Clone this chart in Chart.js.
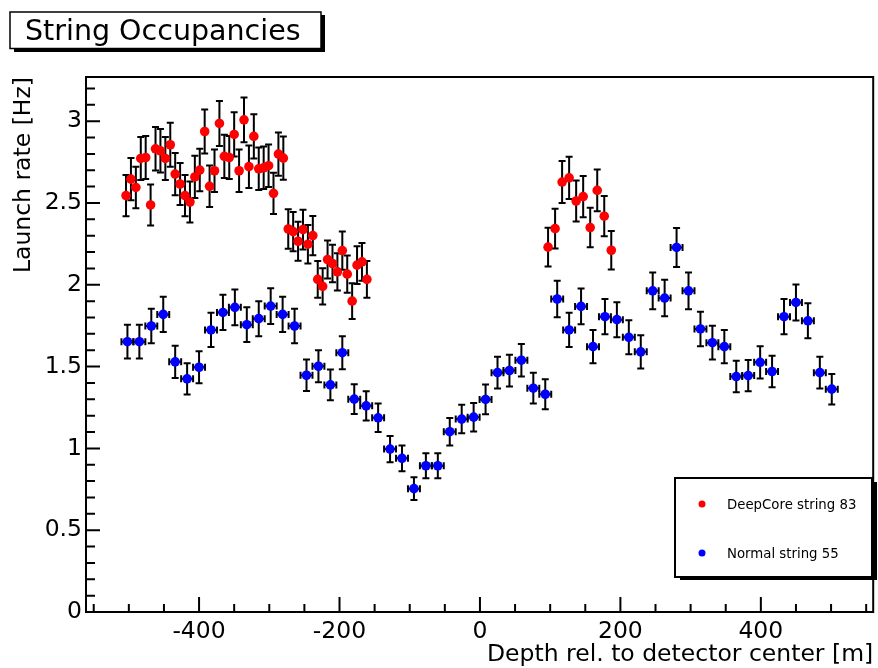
<!DOCTYPE html>
<html>
<head>
<meta charset="utf-8">
<title>String Occupancies</title>
<script src="https://cdn.jsdelivr.net/npm/chart.js@4.4.1/dist/chart.umd.min.js"></script>
<style>
  html, body { margin: 0; padding: 0; background: #fff; }
  canvas { display: block; }
</style>
</head>
<body>
<canvas id="occ" width="878" height="668"></canvas>
<script>
// DeepCore string 83: 50 deep DOMs (7 m apart) + 10 upper DOMs (10 m apart)
const deepX = [-504, -497, -490, -483, -476, -469, -462, -455, -448, -441,
  -434, -427, -420, -413, -406, -399, -392, -385, -378, -371,
  -364, -357, -350, -343, -336, -329, -322, -315, -308, -301,
  -294, -287, -280, -273, -266, -259, -252, -245, -238, -231,
  -224, -217, -210, -203, -196, -189, -182, -175, -168, -161,
  97, 107, 117, 127, 137, 147, 157, 167, 177, 187];
const deepRate = [2.545, 2.646, 2.595, 2.772, 2.778, 2.488, 2.831, 2.819, 2.772, 2.856,
  2.677, 2.616, 2.545, 2.506, 2.659, 2.701, 2.937, 2.602, 2.697, 2.986,
  2.785, 2.778, 2.919, 2.697, 3.008, 2.722, 2.907, 2.709, 2.715, 2.728,
  2.559, 2.799, 2.774, 2.341, 2.325, 2.266, 2.337, 2.248, 2.301, 2.033,
  1.990, 2.154, 2.130, 2.079, 2.209, 2.065, 1.900, 2.120, 2.140, 2.033,
  2.230, 2.343, 2.628, 2.654, 2.512, 2.539, 2.350, 2.577, 2.419, 2.211];
const deepErr = [0.126, 0.129, 0.127, 0.132, 0.132, 0.125, 0.133, 0.133, 0.132, 0.134,
  0.129, 0.128, 0.126, 0.125, 0.129, 0.130, 0.135, 0.127, 0.130, 0.137,
  0.132, 0.132, 0.135, 0.130, 0.137, 0.130, 0.135, 0.130, 0.130, 0.130,
  0.126, 0.132, 0.132, 0.121, 0.120, 0.119, 0.121, 0.118, 0.120, 0.113,
  0.111, 0.116, 0.115, 0.114, 0.117, 0.114, 0.109, 0.115, 0.116, 0.113,
  0.118, 0.121, 0.128, 0.129, 0.125, 0.126, 0.121, 0.127, 0.123, 0.117];

// Normal string 55: 60 DOMs, 17 m apart
const normX = [-502, -485, -468, -451, -434, -417, -400, -383, -366, -349,
  -332, -315, -298, -281, -264, -247, -230, -213, -196, -179,
  -162, -145, -128, -111, -94, -77, -60, -43, -26, -9,
  8, 25, 42, 59, 76, 93, 110, 127, 144, 161,
  178, 195, 212, 229, 246, 263, 280, 297, 314, 331,
  348, 365, 382, 399, 416, 433, 450, 467, 484, 501];
const normRate = [1.652, 1.652, 1.748, 1.819, 1.529, 1.425, 1.496, 1.724, 1.831, 1.862,
  1.756, 1.793, 1.870, 1.819, 1.748, 1.447, 1.502, 1.388, 1.585, 1.301,
  1.260, 1.187, 0.996, 0.939, 0.754, 0.894, 0.894, 1.102, 1.179, 1.191,
  1.299, 1.463, 1.476, 1.539, 1.368, 1.331, 1.913, 1.724, 1.868, 1.622,
  1.805, 1.787, 1.679, 1.590, 1.963, 1.919, 2.228, 1.963, 1.730, 1.646,
  1.622, 1.439, 1.445, 1.526, 1.470, 1.805, 1.892, 1.780, 1.463, 1.362];
const normErr = [0.103, 0.103, 0.106, 0.108, 0.099, 0.096, 0.098, 0.105, 0.108, 0.109,
  0.106, 0.107, 0.109, 0.108, 0.106, 0.096, 0.098, 0.094, 0.101, 0.091,
  0.090, 0.087, 0.080, 0.078, 0.069, 0.076, 0.076, 0.084, 0.087, 0.087,
  0.091, 0.097, 0.097, 0.099, 0.094, 0.092, 0.111, 0.105, 0.109, 0.102,
  0.108, 0.107, 0.104, 0.101, 0.112, 0.111, 0.119, 0.112, 0.105, 0.103,
  0.102, 0.096, 0.096, 0.099, 0.097, 0.108, 0.110, 0.107, 0.097, 0.093];
const normXErr = 8.5;

const xMajor = [-400, -200, 0, 200, 400];
const FONT = 'DejaVu Sans';

// error bars, drawn under the markers
const errorBars = {
  id: 'errorBars',
  beforeDatasetsDraw(chart) {
    const { ctx, scales: { x, y } } = chart;
    ctx.save();
    ctx.strokeStyle = '#000';
    ctx.lineWidth = 2;
    chart.data.datasets.forEach(ds => {
      ds.data.forEach((p, i) => {
        const px = x.getPixelForValue(p.x);
        const y1 = y.getPixelForValue(p.y + ds.yErr[i]);
        const y2 = y.getPixelForValue(p.y - ds.yErr[i]);
        ctx.beginPath();
        ctx.moveTo(px, y1); ctx.lineTo(px, y2);
        ctx.moveTo(px - 3.5, y1); ctx.lineTo(px + 3.5, y1);
        ctx.moveTo(px - 3.5, y2); ctx.lineTo(px + 3.5, y2);
        if (ds.xErr) {
          const py = y.getPixelForValue(p.y);
          const x1 = x.getPixelForValue(p.x - ds.xErr);
          const x2 = x.getPixelForValue(p.x + ds.xErr);
          ctx.moveTo(x1, py); ctx.lineTo(x2, py);
          ctx.moveTo(x1, py - 3.5); ctx.lineTo(x1, py + 3.5);
          ctx.moveTo(x2, py - 3.5); ctx.lineTo(x2, py + 3.5);
        }
        ctx.stroke();
      });
    });
    ctx.restore();
  }
};

// ROOT-like frame, inward ticks, title box and legend box
const rootFrame = {
  id: 'rootFrame',
  afterDraw(chart) {
    const { ctx, chartArea: a, scales: { x, y } } = chart;
    ctx.save();
    ctx.strokeStyle = '#000';
    ctx.lineWidth = 2;
    ctx.strokeRect(a.left, a.top, a.right - a.left, a.bottom - a.top);

    ctx.beginPath();
    for (let v = -550; v <= 550; v += 50) {
      if (v < x.min || v > x.max) continue;
      const px = x.getPixelForValue(v);
      const len = v % 200 === 0 ? 15 : 8;
      ctx.moveTo(px, a.bottom); ctx.lineTo(px, a.bottom - len);
    }
    for (let k = 1; k <= 32; k++) {
      const v = k / 10;
      if (v > y.max) continue;
      const py = y.getPixelForValue(v);
      const len = k % 5 === 0 ? 14 : 9;
      ctx.moveTo(a.left, py); ctx.lineTo(a.left + len, py);
    }
    ctx.stroke();

    // title box
    ctx.fillStyle = '#000';
    ctx.fillRect(14, 48, 311, 4);
    ctx.fillRect(321, 15, 4, 37);
    ctx.fillStyle = '#fff';
    ctx.fillRect(10, 12, 311, 36.5);
    ctx.lineWidth = 1.5;
    ctx.strokeRect(10, 12, 311, 36.5);
    ctx.fillStyle = '#000';
    ctx.font = '28.5px "' + FONT + '"';
    ctx.textBaseline = 'alphabetic';
    ctx.textAlign = 'left';
    ctx.fillText('String Occupancies', 25, 39.5);

    // legend box
    ctx.fillStyle = '#000';
    ctx.fillRect(680, 576, 197, 4);
    ctx.fillRect(872, 482, 5, 98);
    ctx.fillStyle = '#fff';
    ctx.fillRect(675, 478, 197, 99);
    ctx.lineWidth = 2;
    ctx.strokeRect(675, 478, 197, 99);
    chart.data.datasets.forEach((ds, i) => {
      const cy = i === 0 ? 504 : 553;
      ctx.fillStyle = ds.backgroundColor;
      ctx.beginPath();
      ctx.arc(702, cy, 3.5, 0, Math.PI * 2);
      ctx.fill();
      ctx.fillStyle = '#000';
      ctx.font = '13.3px "' + FONT + '"';
      ctx.fillText(ds.label, 727, cy + 4.5);
    });
    ctx.restore();
  }
};

new Chart(document.getElementById('occ'), {
  type: 'scatter',
  data: {
    datasets: [
      {
        label: 'DeepCore string 83',
        data: deepX.map((v, i) => ({ x: v, y: deepRate[i] })),
        yErr: deepErr,
        xErr: 0,
        backgroundColor: '#ff0000',
        borderWidth: 0,
        pointRadius: 4.8
      },
      {
        label: 'Normal string 55',
        data: normX.map((v, i) => ({ x: v, y: normRate[i] })),
        yErr: normErr,
        xErr: normXErr,
        backgroundColor: '#0000ff',
        borderWidth: 0,
        pointRadius: 4.8
      }
    ]
  },
  options: {
    responsive: false,
    animation: false,
    events: [],
    layout: { padding: { top: 77, right: 4, left: 0, bottom: 0 } },
    plugins: { legend: { display: false }, tooltip: { enabled: false } },
    scales: {
      x: {
        type: 'linear',
        min: -561,
        max: 560,
        border: { display: false },
        grid: { display: false, drawTicks: false },
        afterBuildTicks: s => { s.ticks = xMajor.map(v => ({ value: v })); },
        ticks: {
          padding: 8,
          color: '#000',
          maxRotation: 0,
          autoSkip: false,
          font: { family: FONT, size: 23.5, lineHeight: 1 }
        },
        title: {
          display: true,
          text: 'Depth rel. to detector center [m]',
          align: 'end',
          color: '#000',
          padding: { top: 0, bottom: 0 },
          font: { family: FONT, size: 23.5, lineHeight: 1.1 }
        },
        afterFit: s => { s.height = 56; }
      },
      y: {
        min: 0,
        max: 3.27,
        border: { display: false },
        grid: { display: false, drawTicks: false },
        ticks: {
          stepSize: 0.5,
          includeBounds: false,
          padding: 4,
          color: '#000',
          callback: v => String(Number(v.toFixed(2))),
          font: { family: FONT, size: 23.5, lineHeight: 1 }
        },
        title: {
          display: true,
          text: 'Launch rate [Hz]',
          align: 'end',
          color: '#000',
          padding: { top: 11, bottom: 0 },
          font: { family: FONT, size: 23.5, lineHeight: 1.1 }
        },
        afterFit: s => { s.width = 86; }
      }
    }
  },
  plugins: [errorBars, rootFrame]
});
</script>
</body>
</html>
